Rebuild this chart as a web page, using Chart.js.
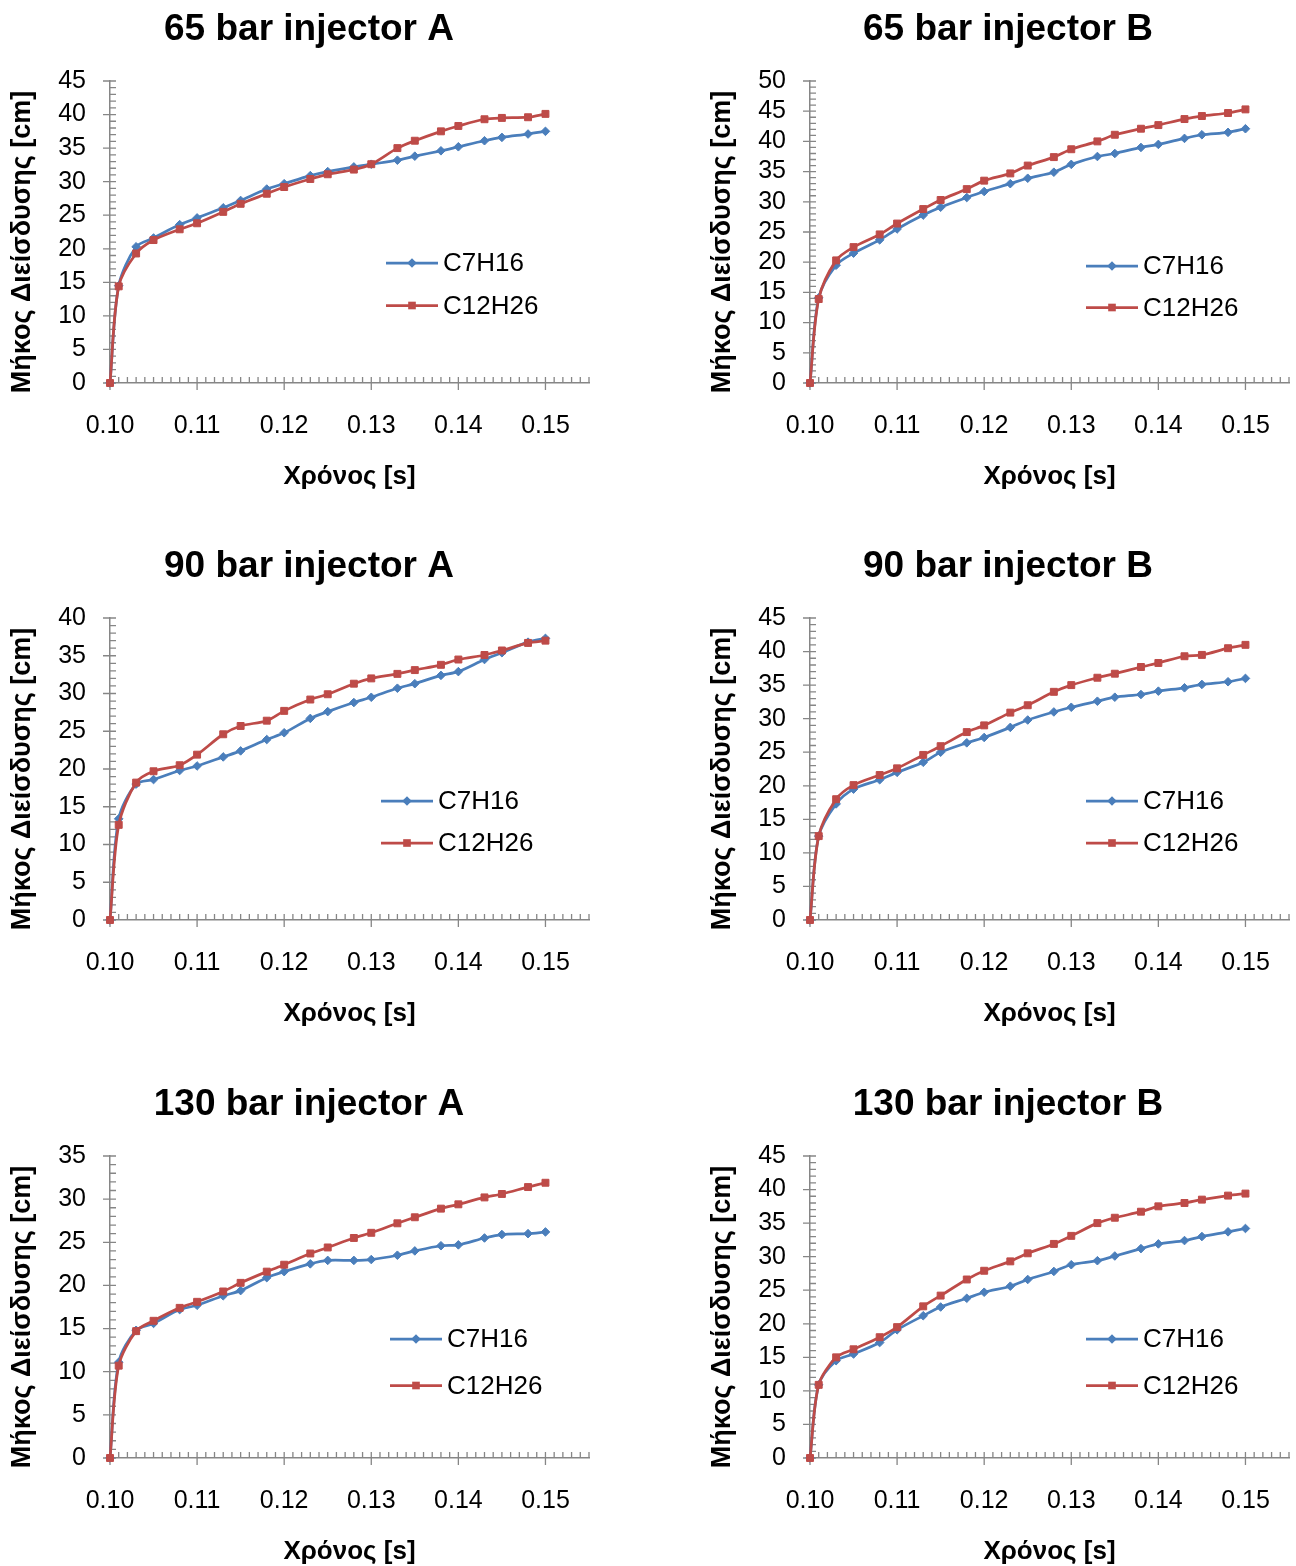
<!DOCTYPE html>
<html>
<head>
<meta charset="utf-8">
<title>Μήκος Διείσδυσης</title>
<script src="https://cdn.jsdelivr.net/npm/chart.js@4.4.1/dist/chart.umd.min.js"></script>
<style>
  html, body { margin: 0; padding: 0; background: #fff; overflow: hidden; width: 1296px; height: 1566px; }
  #grid { position: relative; width: 1296px; height: 1566px; overflow: hidden; }
  .panel { position: absolute; }
</style>
</head>
<body>
<div id="grid"></div>
<script>
// Sampling times of the spray penetration measurements [s]
const timeS = [0.100, 0.101, 0.103, 0.105, 0.108, 0.110, 0.113, 0.115, 0.118, 0.120, 0.123,
               0.125, 0.128, 0.130, 0.133, 0.135, 0.138, 0.140, 0.143, 0.145, 0.148, 0.150];

const xTickValues = [0.10, 0.11, 0.12, 0.13, 0.14, 0.15];
const xTickLabels = ['0.10', '0.11', '0.12', '0.13', '0.14', '0.15'];
const seriesNames = ['C7H16', 'C12H26'];
const panelTitles = ['65 bar injector A', '65 bar injector B', '90 bar injector A',
                     '90 bar injector B', '130 bar injector A', '130 bar injector B'];
const yAxisMax = [45, 50, 40, 45, 35, 45];
const xAxisTitle = 'Χρόνος [s]';
const yAxisTitle = 'Μήκος Διείσδυσης [cm]';

// Penetration length [cm]
const c7h16_65A  = [0, 14.5, 20.3, 21.6, 23.6, 24.6, 26.1, 27.2, 28.9, 29.7, 30.9, 31.5, 32.2, 32.6, 33.2, 33.8, 34.6, 35.2, 36.1, 36.6, 37.1, 37.5];
const c12h26_65A = [0, 14.4, 19.3, 21.3, 22.9, 23.8, 25.5, 26.7, 28.2, 29.2, 30.4, 31.1, 31.8, 32.6, 35.0, 36.1, 37.5, 38.3, 39.3, 39.5, 39.6, 40.1];
const c7h16_65B  = [0, 14.1, 19.5, 21.5, 23.7, 25.5, 27.8, 29.1, 30.7, 31.7, 33.0, 33.9, 34.9, 36.2, 37.5, 38.0, 39.0, 39.5, 40.5, 41.1, 41.5, 42.1];
const c12h26_65B = [0, 13.9, 20.3, 22.5, 24.6, 26.4, 28.8, 30.3, 32.1, 33.5, 34.7, 36.0, 37.4, 38.7, 40.0, 41.1, 42.1, 42.7, 43.7, 44.2, 44.7, 45.3];
const c7h16_90A  = [0, 13.4, 18.0, 18.6, 19.8, 20.4, 21.6, 22.4, 23.9, 24.8, 26.7, 27.6, 28.8, 29.5, 30.7, 31.3, 32.4, 32.9, 34.5, 35.4, 36.8, 37.3];
const c12h26_90A = [0, 12.6, 18.2, 19.7, 20.5, 21.9, 24.6, 25.7, 26.4, 27.7, 29.2, 29.9, 31.3, 32.0, 32.6, 33.1, 33.8, 34.5, 35.1, 35.7, 36.7, 37.0];
const c7h16_90B  = [0, 12.5, 17.3, 19.5, 20.9, 22.0, 23.5, 25.0, 26.4, 27.2, 28.7, 29.8, 31.0, 31.7, 32.6, 33.2, 33.6, 34.1, 34.6, 35.1, 35.5, 36.0];
const c12h26_90B = [0, 12.5, 18.0, 20.1, 21.6, 22.6, 24.6, 25.9, 28.0, 29.0, 30.9, 32.0, 34.0, 35.0, 36.1, 36.7, 37.7, 38.3, 39.3, 39.5, 40.5, 41.0];
const c7h16_130A  = [0, 11.1, 14.8, 15.6, 17.2, 17.7, 18.8, 19.4, 20.9, 21.6, 22.5, 22.9, 22.9, 23.0, 23.5, 24.0, 24.6, 24.7, 25.5, 25.9, 26.0, 26.2];
const c12h26_130A = [0, 10.7, 14.7, 15.9, 17.4, 18.1, 19.3, 20.3, 21.6, 22.4, 23.7, 24.4, 25.5, 26.1, 27.2, 27.9, 28.9, 29.4, 30.2, 30.6, 31.4, 31.9];
const c7h16_130B  = [0, 10.9, 14.5, 15.5, 17.2, 19.1, 21.2, 22.5, 23.8, 24.7, 25.6, 26.6, 27.8, 28.8, 29.4, 30.1, 31.2, 31.9, 32.4, 33.0, 33.7, 34.2];
const c12h26_130B = [0, 10.9, 15.0, 16.2, 18.0, 19.5, 22.6, 24.2, 26.6, 27.9, 29.3, 30.5, 31.9, 33.1, 35.0, 35.8, 36.7, 37.5, 38.0, 38.5, 39.1, 39.4];

const panelSeries = [
  [c7h16_65A, c12h26_65A], [c7h16_65B, c12h26_65B],
  [c7h16_90A, c12h26_90A], [c7h16_90B, c12h26_90B],
  [c7h16_130A, c12h26_130A], [c7h16_130B, c12h26_130B]
];

// ---- presentation ----
const FONT = '"Liberation Sans", Arial, Helvetica, sans-serif';
const AXIS = '#868686';
const COLORS = ['#4A7EBB', '#BE4B48'];
const POINT_STYLES = ['rectRot', 'rect'];
const POINT_RADII = [4.3, 4.9];
const CANVAS_W = 618, CANVAS_H = 537;
const panelPos = [[0, 0], [700, 0], [0, 537], [700, 537], [0, 1075], [700, 1075]];
const titleCenterX = [309, 308, 309, 308, 309, 308];
// legend: [line start, line end, text x], [row y for each series]
const legendX = [[386, 438, 443], [386, 438, 443], [381, 433, 438], [386, 438, 443], [390, 442, 447], [386, 438, 443]];
const legendY = [[263, 305.5], [266, 307.5], [264, 306], [264, 306], [264, 310.5], [264, 310.5]];

function drawMarker(ctx, style, r, x, y, color) {
  ctx.fillStyle = color;
  ctx.beginPath();
  if (style === 'rectRot') {
    ctx.moveTo(x, y - r); ctx.lineTo(x + r, y); ctx.lineTo(x, y + r); ctx.lineTo(x - r, y);
  } else {
    const h = r * Math.SQRT1_2;
    ctx.rect(x - h, y - h, 2 * h, 2 * h);
  }
  ctx.closePath();
  ctx.fill();
}

// Excel-like axis tick marks: crossing major ticks, inside minor ticks
const axisTickMarks = {
  id: 'axisTickMarks',
  beforeDatasetsDraw(chart) {
    const { ctx, scales: { x, y } } = chart;
    const x0 = x.left, y0 = y.bottom;
    ctx.save();
    ctx.strokeStyle = AXIS;
    ctx.lineWidth = 1.3;
    ctx.beginPath();
    const xMinorCount = Math.round((x.max - x.min) / 0.001);
    for (let i = 0; i <= xMinorCount; i++) {
      const px = x.getPixelForValue(x.min + i * 0.001);
      const major = i % 10 === 0;
      ctx.moveTo(px, y0 - 6);
      ctx.lineTo(px, major ? y0 + 7 : y0);
    }
    for (let v = 0; v <= y.max; v++) {
      const py = y.getPixelForValue(v);
      const major = v % 5 === 0;
      ctx.moveTo(major ? x0 - 7 : x0, py);
      ctx.lineTo(x0 + 6, py);
    }
    ctx.stroke();
    ctx.restore();
  }
};

// Chart title, vertical axis title and series key drawn inside each panel
const panelDecor = {
  id: 'panelDecor',
  afterDraw(chart, args, opts) {
    const ctx = chart.ctx;
    ctx.save();
    ctx.fillStyle = '#000';
    ctx.font = 'bold 37px ' + FONT;
    ctx.textAlign = 'center';
    ctx.textBaseline = 'middle';
    ctx.fillText(opts.title, opts.titleX, 30);

    ctx.save();
    ctx.translate(23, 242);
    ctx.rotate(-Math.PI / 2);
    ctx.font = 'bold 27px ' + FONT;
    ctx.fillText(yAxisTitle, 0, 0);
    ctx.restore();

    const [lx0, lx1, tx] = opts.legendX;
    chart.data.datasets.forEach((ds, i) => {
      const ly = opts.legendY[i];
      ctx.strokeStyle = ds.borderColor;
      ctx.lineWidth = ds.borderWidth;
      ctx.beginPath();
      ctx.moveTo(lx0, ly);
      ctx.lineTo(lx1, ly);
      ctx.stroke();
      drawMarker(ctx, ds.pointStyle, ds.pointRadius + 0.5, (lx0 + lx1) / 2, ly, ds.borderColor);
      ctx.fillStyle = '#000';
      ctx.font = '26px ' + FONT;
      ctx.textAlign = 'left';
      ctx.textBaseline = 'middle';
      ctx.fillText(ds.label, tx, ly + 1);
    });
    ctx.restore();
  }
};

const grid = document.getElementById('grid');

panelSeries.forEach((series, p) => {
  const canvas = document.createElement('canvas');
  canvas.className = 'panel';
  canvas.width = CANVAS_W;
  canvas.height = CANVAS_H;
  canvas.style.left = panelPos[p][0] + 'px';
  canvas.style.top = panelPos[p][1] + 'px';
  canvas.style.width = CANVAS_W + 'px';
  canvas.style.height = CANVAS_H + 'px';
  grid.appendChild(canvas);

  const datasets = series.map((vals, s) => ({
    label: seriesNames[s],
    data: timeS.map((t, k) => ({ x: t, y: vals[k] })),
    borderColor: COLORS[s],
    backgroundColor: COLORS[s],
    pointBackgroundColor: COLORS[s],
    pointBorderColor: COLORS[s],
    borderWidth: 2.75,
    pointStyle: POINT_STYLES[s],
    pointRadius: POINT_RADII[s],
    pointBorderWidth: 1,
    tension: 0.3,
    fill: false,
    clip: false,
    order: s === 0 ? 1 : 0
  }));

  new Chart(canvas, {
    type: 'line',
    data: { datasets },
    plugins: [axisTickMarks, panelDecor],
    options: {
      responsive: false,
      animation: false,
      events: [],
      devicePixelRatio: 1,
      layout: { padding: { top: 81, left: 0, right: 29, bottom: 0 } },
      plugins: {
        legend: { display: false },
        tooltip: { enabled: false },
        panelDecor: {
          title: panelTitles[p],
          titleX: titleCenterX[p],
          legendX: legendX[p],
          legendY: legendY[p]
        }
      },
      scales: {
        x: {
          type: 'linear',
          min: 0.1,
          max: 0.155,
          afterBuildTicks: s => { s.ticks = xTickValues.map(v => ({ value: v })); },
          afterFit: s => { s.height = 154; },
          grid: { display: false, drawTicks: false },
          border: { display: true, color: AXIS, width: 1.5 },
          ticks: {
            autoSkip: false, maxRotation: 0, minRotation: 0,
            padding: 28, color: '#000',
            font: { family: FONT, size: 25 },
            callback: (v, i) => xTickLabels[i]
          },
          title: {
            display: true, text: xAxisTitle, color: '#000',
            font: { family: FONT, size: 26, weight: 'bold', lineHeight: 1.2 },
            padding: { top: 0, bottom: 45 }
          }
        },
        y: {
          type: 'linear',
          min: 0,
          max: yAxisMax[p],
          afterFit: s => { s.width = 110; },
          grid: { display: false, drawTicks: false },
          border: { display: true, color: AXIS, width: 1.5 },
          ticks: {
            stepSize: 5, autoSkip: false, padding: 24, color: '#000',
            font: { family: FONT, size: 25 }
          },
          title: { display: false }
        }
      }
    }
  });
});
</script>
</body>
</html>
